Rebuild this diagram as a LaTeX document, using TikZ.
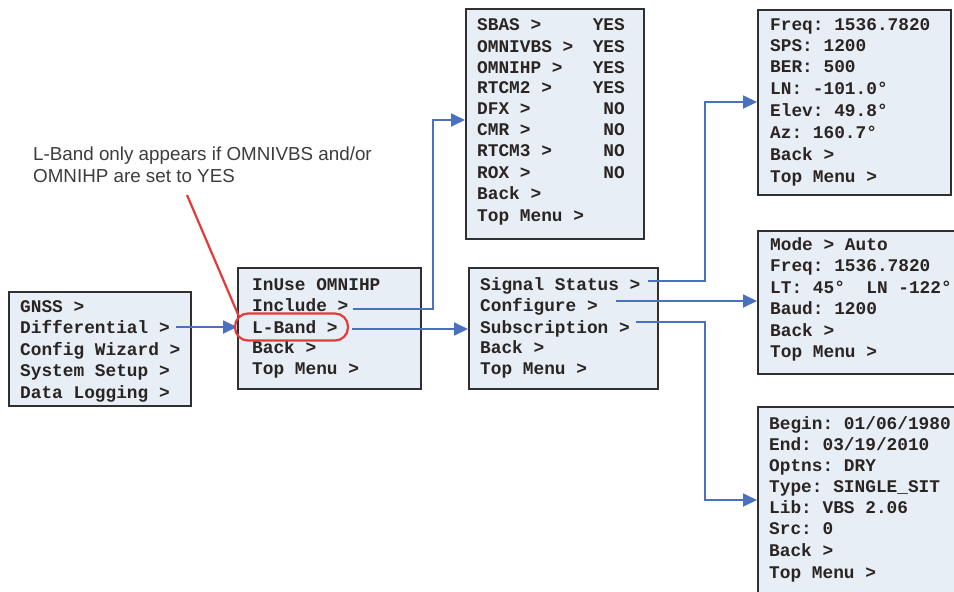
\documentclass[tikz,border=0pt]{standalone}
\usepackage{fontspec}
\setmainfont{Liberation Sans}
\newfontfamily\menufont{Liberation Mono}
\usetikzlibrary{arrows.meta,calc}
\definecolor{boxfill}{HTML}{E8EEF6}
\definecolor{boxline}{HTML}{303030}
\definecolor{menutext}{HTML}{2A2522}
\definecolor{linkblue}{HTML}{4A70BE}
\definecolor{notered}{HTML}{E23A3A}
\definecolor{notetext}{HTML}{3C3C3C}
\begin{document}
\frenchspacing
\begin{tikzpicture}[x=1pt,y=-1pt,
  menubox/.style={draw=boxline, line width=2.2pt, fill=boxfill, inner sep=0pt, anchor=north west},
  menuline/.style={font=\menufont\bfseries\fontsize{17.8}{20}\selectfont\frenchspacing, text=menutext, inner sep=0pt, anchor=base west},
  menuval/.style={menuline, anchor=base east},
  conn/.style={draw=linkblue, line width=1.8pt, -{Triangle[length=14pt,width=13pt]}},
  notefont/.style={font=\fontsize{18.8}{22}\selectfont, text=notetext, inner sep=0pt, anchor=base west},
]
\useasboundingbox (0,0) rectangle (954,592);
\clip (0,0) rectangle (954,592);

% menu frames
\node[menubox, minimum width=182pt, minimum height=114pt] (gnssbox)  at (8,291)   {};
\node[menubox, minimum width=183pt, minimum height=121pt] (inusebox) at (237,267) {};
\node[menubox, minimum width=178pt, minimum height=230pt] (sbasbox)  at (465,8)   {};
\node[menubox, minimum width=189pt, minimum height=121pt] (sigbox)   at (468,267) {};
\node[menubox, minimum width=193pt, minimum height=185pt] (freqbox)  at (757,9)   {};
\node[menubox, minimum width=213pt, minimum height=143pt] (modebox)  at (757,230) {};
\node[menubox, minimum width=213pt, minimum height=194pt] (beginbox) at (757,406) {};

% main menu (y = baseline)
\foreach \t/\y [count=\i] in {GNSS >/312, Differential >/333, Config Wizard >/355,
    System Setup >/376, Data Logging >/398}
  \node[menuline] (g\i) at (20,\y) {\t};

% differential menu
\foreach \t/\y [count=\i] in {InUse OMNIHP/290, Include >/311, L-Band >/333,
    Back >/353, Top Menu >/374}
  \node[menuline] (i\i) at (252,\y) {\t};

% include list with states
\foreach \t/\v/\y [count=\i] in {SBAS >/YES/30, OMNIVBS >/YES/52, OMNIHP >/YES/73,
    RTCM2 >/YES/93, DFX >/NO/114, CMR >/NO/135, RTCM3 >/NO/156, ROX >/NO/178}{
  \node[menuline] (c\i) at (477,\y) {\t};
  \node[menuval] (v\i) at (625,\y) {\v};
}
\node[menuline] (c9)  at (477,199) {Back >};
\node[menuline] (c10) at (477,221) {Top Menu >};

% L-Band menu
\foreach \t/\y [count=\i] in {Signal Status >/290, Configure >/311, Subscription >/333,
    Back >/353, Top Menu >/374}
  \node[menuline] (s\i) at (480,\y) {\t};

% signal status
\foreach \t/\y [count=\i] in {Freq: 1536.7820/30, SPS: 1200/51, BER: 500/72,
    LN: -101.0°/94, Elev: 49.8°/116, Az: 160.7°/138, Back >/160, Top Menu >/182}
  \node[menuline] (f\i) at (770,\y) {\t};

% configure
\foreach \t/\y [count=\i] in {Mode > Auto/250, Freq: 1536.7820/271,
    LT: 45°~~LN -122°/293, Baud: 1200/314, Back >/336, Top Menu >/357}
  \node[menuline] (m\i) at (770,\y) {\t};

% subscription
\foreach \t/\y [count=\i] in {{Begin: 01/06/1980}/429, {End: 03/19/2010}/450,
    Optns: DRY/471, Type: SINGLE\_SIT/492, Lib: VBS 2.06/513, Src: 0/534,
    Back >/556, Top Menu >/578}
  \node[menuline] (b\i) at (769,\y) {\t};

% connectors
\coordinate (diffout) at ([xshift=6pt,yshift=6pt]g2.base east);
\draw[conn] (diffout) -- (diffout -| inusebox.west);

\coordinate (incout)  at ([xshift=4pt,yshift=2pt]i2.base east);
\coordinate (incturn) at (433,120);
\draw[conn] (incout) -| (incturn) -- (incturn -| sbasbox.west);

\coordinate (lbout) at ([xshift=14pt,yshift=4pt]i3.base east);
\draw[conn] (lbout) -- (lbout -| sigbox.west);

\coordinate (sigout)  at ([xshift=7pt,yshift=9pt]s1.base east);
\coordinate (sigturn) at (705,102);
\draw[conn] (sigout) -| (sigturn) -- (sigturn -| freqbox.west);

\coordinate (cfgout) at ([xshift=18pt,yshift=10pt]s2.base east);
\draw[conn] (cfgout) -- (cfgout -| modebox.west);

\coordinate (subout)  at ([xshift=6pt,yshift=11pt]s3.base east);
\coordinate (subturn) at (705,500);
\draw[conn] (subout) -| (subturn) -- (subturn -| beginbox.west);

% note on L-Band
\node[notefont] (note1) at (33,160) {L-Band only appears if OMNIVBS and/or};
\node[notefont] (note2) at (33,182) {OMNIHP are set to YES};
\node[draw=notered, line width=2.2pt, rounded corners=13pt, minimum width=113pt,
  minimum height=27pt, inner sep=0pt] (lbmark) at (291.5,327) {};
\coordinate (notetail) at (187,195);
\draw[notered, line width=2.2pt] (notetail) -- ([shift={(5pt,-4pt)}]lbmark.north west);
\end{tikzpicture}
\end{document}
